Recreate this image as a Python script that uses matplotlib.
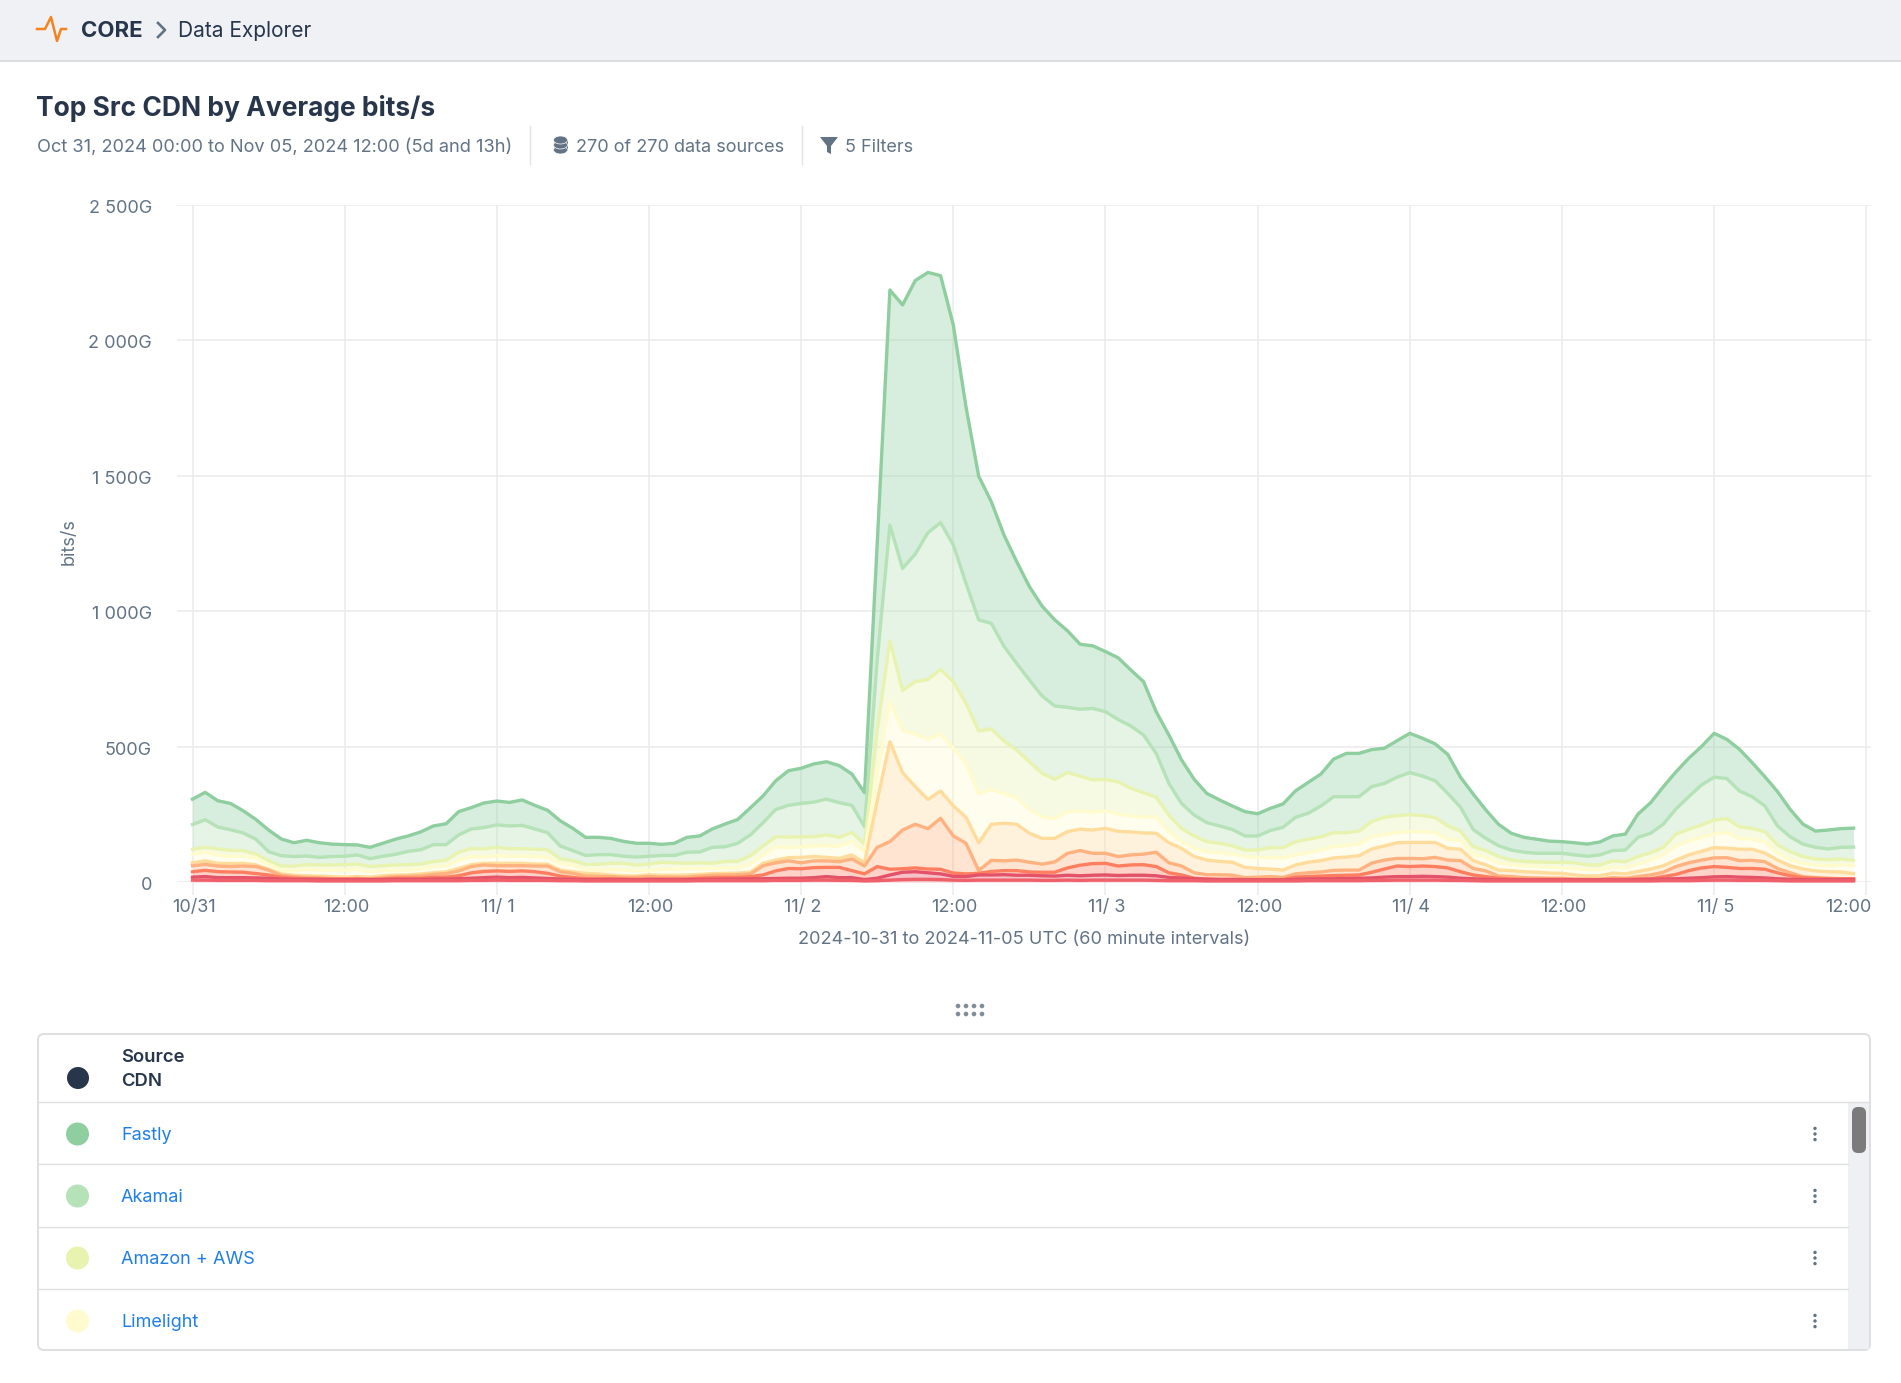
"""Top Src CDN by Average bits/s - stacked hourly traffic plus the page chrome round it."""

import matplotlib
matplotlib.use("Agg")
import matplotlib.pyplot as plt
from matplotlib.patches import Circle, Ellipse, FancyBboxPatch, Polygon, Rectangle
from matplotlib.transforms import ScaledTranslation

W, H = 1901, 1383

plt.rcParams["font.family"] = ["Inter", "DejaVu Sans"]

# stacked top edge of each series in Gbit/s, one value per hour from 10/31 00:00
fastly = [306, 331, 300, 290, 263, 231, 192, 159, 145, 154,
          145, 140, 138, 137, 128, 143, 158, 170, 185, 207,
          215, 260, 275, 292, 299, 294, 303, 283, 265, 226,
          198, 165, 165, 161, 150, 143, 143, 139, 143, 165,
          170, 196, 214, 231, 274, 318, 374, 411, 420, 436,
          444, 430, 399, 330, 1250, 2186, 2131, 2221, 2251, 2239,
          2057, 1755, 1499, 1404, 1281, 1183, 1091, 1019, 968, 928,
          878, 872, 851, 828, 783, 740, 629, 543, 451, 379,
          327, 303, 281, 260, 252, 272, 288, 337, 368, 399,
          454, 475, 475, 489, 494, 522, 549, 531, 510, 471,
          387, 325, 266, 213, 180, 165, 158, 151, 149, 145,
          140, 148, 170, 177, 251, 293, 352, 407, 457, 500,
          549, 527, 490, 441, 389, 334, 268, 214, 188, 192,
          197, 199]
akamai = [212, 230, 203, 193, 181, 158, 112, 97, 94, 96,
          91, 94, 95, 100, 86, 95, 102, 113, 119, 138,
          138, 174, 196, 201, 211, 207, 209, 196, 182, 133,
          116, 98, 101, 101, 95, 92, 95, 98, 98, 110,
          111, 128, 130, 143, 174, 219, 268, 283, 290, 295,
          306, 293, 283, 204, 820, 1318, 1158, 1211, 1290, 1327,
          1245, 1103, 968, 955, 870, 807, 746, 687, 650, 645,
          638, 641, 629, 600, 576, 543, 475, 364, 290, 247,
          219, 207, 194, 170, 170, 190, 202, 239, 254, 281,
          315, 315, 315, 352, 364, 387, 404, 391, 374, 327,
          276, 194, 161, 134, 118, 110, 106, 106, 106, 100,
          95, 100, 116, 118, 165, 180, 214, 270, 315, 358,
          387, 382, 336, 315, 281, 207, 167, 140, 128, 122,
          128, 129]
amazon = [121, 128, 122, 117, 116, 103, 79, 59, 59, 64,
          63, 63, 64, 66, 57, 60, 63, 64, 66, 75,
          81, 110, 124, 122, 128, 123, 123, 121, 119, 86,
          79, 65, 65, 69, 69, 62, 66, 73, 71, 69,
          71, 69, 76, 76, 97, 133, 167, 166, 167, 167,
          174, 165, 183, 140, 560, 891, 707, 740, 748, 785,
          740, 660, 558, 565, 521, 487, 444, 401, 379, 404,
          391, 377, 379, 370, 346, 330, 313, 247, 198, 170,
          149, 143, 134, 118, 118, 127, 127, 149, 158, 167,
          182, 182, 188, 223, 239, 245, 249, 245, 238, 207,
          188, 130, 116, 94, 81, 76, 74, 73, 73, 71,
          63, 63, 78, 75, 94, 108, 128, 177, 195, 210,
          229, 234, 204, 198, 186, 137, 112, 94, 85, 82,
          85, 80]
limelight = [103, 110, 100, 94, 95, 90, 65, 44, 41, 47,
             44, 44, 44, 47, 37, 42, 44, 44, 48, 57,
             59, 81, 94, 92, 97, 95, 95, 95, 92, 69,
             63, 46, 44, 46, 44, 41, 43, 47, 47, 50,
             49, 50, 52, 52, 66, 100, 130, 127, 130, 134,
             134, 133, 150, 112, 400, 666, 559, 547, 527, 547,
             494, 438, 327, 342, 327, 311, 268, 241, 234, 260,
             263, 258, 263, 251, 244, 239, 241, 186, 149, 124,
             112, 108, 103, 94, 91, 91, 89, 100, 108, 118,
             131, 135, 140, 167, 175, 183, 187, 186, 183, 158,
             154, 103, 91, 71, 64, 60, 58, 55, 53, 50,
             46, 46, 54, 52, 66, 81, 101, 133, 151, 165,
             177, 183, 161, 158, 149, 106, 84, 69, 63, 60,
             63, 62]
peach = [71, 78, 69, 68, 69, 63, 47, 30, 25, 23,
         22, 20, 18, 20, 18, 23, 26, 26, 30, 34,
         38, 50, 64, 69, 69, 69, 69, 66, 66, 44,
         38, 32, 30, 26, 23, 22, 27, 25, 25, 26,
         28, 31, 32, 33, 36, 69, 81, 90, 91, 94,
         91, 87, 100, 71, 300, 518, 404, 352, 305, 336,
         281, 239, 145, 213, 217, 213, 180, 161, 161, 186,
         195, 192, 198, 187, 185, 181, 180, 145, 124, 94,
         81, 76, 73, 54, 50, 48, 44, 63, 73, 79,
         89, 92, 97, 122, 133, 145, 146, 146, 146, 124,
         121, 79, 63, 44, 42, 38, 36, 33, 32, 26,
         22, 23, 33, 30, 39, 48, 60, 81, 100, 113,
         127, 125, 121, 121, 107, 81, 60, 48, 41, 38,
         37, 31]
orange = [60, 65, 59, 57, 59, 57, 44, 25, 20, 17,
          16, 12, 11, 14, 11, 16, 20, 21, 23, 28,
          31, 41, 57, 63, 60, 60, 60, 59, 59, 38,
          32, 22, 21, 20, 17, 17, 20, 18, 18, 18,
          22, 25, 26, 27, 30, 60, 71, 78, 71, 78,
          78, 75, 85, 59, 128, 149, 192, 213, 197, 235,
          170, 143, 42, 80, 78, 81, 73, 66, 74, 106,
          116, 106, 106, 94, 100, 103, 110, 71, 59, 34,
          27, 27, 25, 16, 18, 20, 17, 30, 34, 37,
          43, 44, 44, 70, 81, 87, 87, 86, 91, 81,
          79, 50, 41, 22, 20, 16, 15, 14, 14, 11,
          10, 10, 16, 14, 20, 26, 36, 57, 71, 81,
          89, 90, 79, 80, 75, 50, 34, 20, 16, 14,
          12, 12]
coral = [38, 43, 38, 37, 36, 31, 26, 18, 14, 12,
         12, 11, 11, 11, 10, 11, 14, 14, 14, 17,
         18, 23, 34, 39, 41, 39, 41, 38, 32, 22,
         17, 12, 12, 12, 11, 10, 11, 11, 11, 11,
         14, 16, 17, 17, 20, 26, 41, 50, 49, 53,
         54, 54, 42, 30, 57, 47, 49, 52, 48, 47,
         33, 30, 32, 39, 42, 42, 37, 36, 36, 52,
         62, 68, 69, 59, 63, 64, 57, 34, 26, 14,
         11, 10, 10, 9, 9, 9, 9, 18, 20, 22,
         24, 25, 26, 36, 48, 59, 57, 59, 57, 52,
         38, 26, 20, 14, 11, 10, 10, 10, 10, 9,
         9, 9, 10, 10, 11, 12, 20, 28, 42, 52,
         57, 54, 50, 50, 47, 34, 23, 16, 14, 12,
         12, 12]
crimson = [18, 20, 16, 16, 16, 15, 14, 11, 10, 10,
           9, 9, 9, 9, 9, 9, 10, 10, 10, 11,
           11, 12, 14, 16, 18, 16, 17, 15, 13, 11,
           10, 9, 9, 9, 9, 8, 9, 9, 9, 9,
           10, 10, 11, 11, 12, 12, 13, 14, 14, 16,
           20, 16, 16, 9, 14, 26, 36, 38, 34, 30,
           21, 20, 26, 26, 27, 25, 25, 23, 22, 25,
           23, 25, 26, 24, 25, 25, 23, 17, 15, 12,
           10, 9, 9, 8, 8, 8, 8, 10, 11, 12,
           12, 13, 14, 15, 18, 20, 20, 21, 20, 18,
           14, 12, 10, 9, 8, 8, 8, 8, 8, 8,
           8, 8, 8, 8, 9, 10, 11, 12, 14, 16,
           19, 20, 18, 17, 15, 12, 10, 9, 9, 9,
           9, 9]
scarlet = [7, 7, 6, 6, 6, 6, 5, 5, 5, 5,
           4, 4, 4, 4, 4, 4, 5, 5, 5, 5,
           5, 5, 6, 6, 7, 6, 6, 6, 6, 5,
           5, 4, 4, 4, 4, 4, 4, 4, 4, 4,
           5, 5, 5, 5, 5, 5, 6, 6, 6, 7,
           7, 6, 6, 4, 5, 7, 9, 10, 10, 9,
           7, 6, 7, 7, 7, 7, 7, 6, 6, 7,
           6, 7, 7, 7, 7, 7, 6, 5, 5, 5,
           4, 4, 4, 4, 4, 4, 4, 4, 5, 5,
           5, 5, 5, 6, 6, 7, 7, 7, 7, 6,
           6, 5, 4, 4, 4, 4, 4, 4, 4, 4,
           4, 4, 4, 4, 4, 4, 5, 5, 5, 6,
           7, 7, 6, 6, 6, 5, 4, 4, 4, 4,
           4, 4]

series = [fastly, akamai, amazon, limelight, peach, orange, coral, crimson, scarlet]
line_colors = ["#8FCE9F", "#B5E2B7", "#E8F3AF", "#FFFBCD", "#FFDC9B",
               "#FFB27F", "#FF7E60", "#E35268", "#F0606A"]

y_ticks = [0, 500, 1000, 1500, 2000, 2500]
y_labels = ["0", "500G", "1 000G", "1 500G", "2 000G", "2 500G"]
x_ticks = [0, 12, 24, 36, 48, 60, 72, 84, 96, 108, 120, 132]
x_labels = ["10/31", "12:00", "11/ 1", "12:00", "11/ 2", "12:00",
            "11/ 3", "12:00", "11/ 4", "12:00", "11/ 5", "12:00"]

table_rows = ["Fastly", "Akamai", "Amazon + AWS", "Limelight"]
table_colors = ["#8FCE9F", "#B5E2B7", "#E8F3AF", "#FFFBCF"]

INK = "#27364B"
MUTED = "#627386"
GRID = "#ECECEC"
LINK = "#1F7EEA"
BORDER = "#DEDFE1"

fig = plt.figure(figsize=(W / 100, H / 100), dpi=100, facecolor="white")

# page chrome lives on a full-figure axes measured in pixels
ui = fig.add_axes([0, 0, 1, 1])
ui.set_xlim(0, W)
ui.set_ylim(H, 0)
ui.axis("off")

ui.add_patch(Rectangle((0, 0), W, 61, fc="#EFF1F5", ec="none"))
ui.plot([0, W], [61, 61], color="#D3D5D8", lw=1.1)
ui.plot([37, 45, 51, 57, 61, 66], [29, 29, 17, 41, 29, 29], color="#F5821F", lw=1.8)
ui.text(81, 31, "CORE", fontsize=16, fontweight="bold", color=INK, va="center")
ui.plot([158, 165, 158], [23, 30, 37], color=MUTED, lw=1.9)
ui.text(178, 31, "Data Explorer", fontsize=15, color=INK, va="center")

ui.text(36, 108.5, "Top Src CDN by Average bits/s", fontsize=19, fontweight="bold", color=INK, va="center")
ui.text(37, 147.5, "Oct 31, 2024 00:00 to Nov 05, 2024 12:00 (5d and 13h)", fontsize=13.1, color=MUTED, va="center")
ui.plot([530, 530], [126, 164], color="#E1E3E6", lw=1)
ui.plot([802, 802], [126, 164], color="#E1E3E6", lw=1)

# database and funnel icons
for top in [150, 145, 140]:
    ui.add_patch(Ellipse((560.5, top), 14, 8, fc=MUTED, ec="white", lw=0.5))
ui.add_patch(Rectangle((553.5, 140), 14, 11, fc=MUTED, ec="none", zorder=0))
ui.add_patch(Polygon([(820, 137), (838, 137), (831, 146), (831, 154), (827, 152), (827, 146)], fc=MUTED, ec="none"))
ui.text(576, 147.5, "270 of 270 data sources", fontsize=13, color=MUTED, va="center")
ui.text(845, 147.5, "5 Filters", fontsize=13, color=MUTED, va="center")

ui.text(69, 542, "bits/s", fontsize=13, color=MUTED, rotation=90, ha="center", va="center")
ui.text(1024, 939, "2024-10-31 to 2024-11-05 UTC (60 minute intervals)", fontsize=13.1, color=MUTED, ha="center", va="center")

# drag handle
for dot_x in [957, 965, 973, 981]:
    for dot_y in [1006, 1014]:
        ui.add_patch(Circle((dot_x + 1, dot_y), 2.3, fc="#808C99", ec="none"))

# table
ui.add_patch(FancyBboxPatch((38, 1034), 1832, 316, boxstyle="round,pad=0,rounding_size=6", fc="white", ec=BORDER, lw=1.4))
ui.add_patch(Rectangle((1848, 1103), 21, 246, fc="#EEF0F4", ec="none"))
ui.add_patch(FancyBboxPatch((1852, 1107), 14, 46, boxstyle="round,pad=0,rounding_size=6", fc="#7B7B7B", ec="none"))
ui.add_patch(Circle((78, 1078), 11, fc=INK, ec="none"))
ui.text(121, 1057, "Source", fontsize=13.3, fontweight=600, color=INK, va="center")
ui.text(121, 1082, "CDN", fontsize=13.3, fontweight=600, color=INK, va="center")

for row_top, row_y, name, color in zip([1102, 1164, 1227, 1289], [1134, 1196, 1258, 1321], table_rows, table_colors):
    ui.plot([38, 1870 if row_top == 1102 else 1848], [row_top, row_top], color=BORDER, lw=1)
    ui.add_patch(Circle((77.5, row_y), 11.5, fc=color, ec="none"))
    ui.text(121, row_y + 1.5, name, fontsize=13, color=LINK, va="center")
    for off in [-5.6, 0, 5.6]:
        ui.add_patch(Circle((1815, row_y + off), 1.7, fc=MUTED, ec="none"))

# chart axes: left 177, right 1871, top 205, bottom 882 in pixels
ax = fig.add_axes([177 / W, 1 - 882 / H, (1871 - 177) / W, (882 - 205) / H])
ax.patch.set_alpha(0)
hours = list(range(len(fastly)))

for i, top in enumerate(series):
    lower = series[i + 1] if i + 1 < len(series) else [0] * len(top)
    ax.fill_between(hours, lower, top, color=line_colors[i], alpha=0.35, lw=0, zorder=2)
for i, top in enumerate(series):
    ax.plot(hours, top, color=line_colors[i], lw=2.4, zorder=3 + i, clip_on=False)

ax.set_xlim((177 - 192.5) / 12.68, (1871 - 192.5) / 12.68)
ax.set_ylim(0, 2500)
ax.set_xticks(x_ticks)
ax.set_xticklabels(x_labels)
ax.set_yticks(y_ticks)
ax.set_yticklabels(y_labels)
ax.grid(True, color=GRID, lw=1.2, zorder=1)
ax.set_axisbelow(True)
for spine in ax.spines.values():
    spine.set_visible(False)
ax.tick_params(axis="x", length=9, width=1.2, color=GRID, labelcolor=MUTED, labelsize=13, pad=3)
ax.tick_params(axis="y", length=0, labelcolor=MUTED, labelsize=13, pad=18)


def nudge(label, dx_px, dy_px):
    # tick labels sit a few pixels off the default spot in the reference
    label.set_transform(label.get_transform() + ScaledTranslation(dx_px / 100, -dy_px / 100, fig.dpi_scale_trans))


for label in ax.get_yticklabels():
    nudge(label, 0, 1.5)
x_tick_labels = ax.get_xticklabels()
for label in x_tick_labels[:-1]:
    nudge(label, 1.5, 0)
x_tick_labels[-1].set_ha("right")
nudge(x_tick_labels[-1], 5, 0)

fig.savefig("out.png", dpi=100)
plt.close(fig)
